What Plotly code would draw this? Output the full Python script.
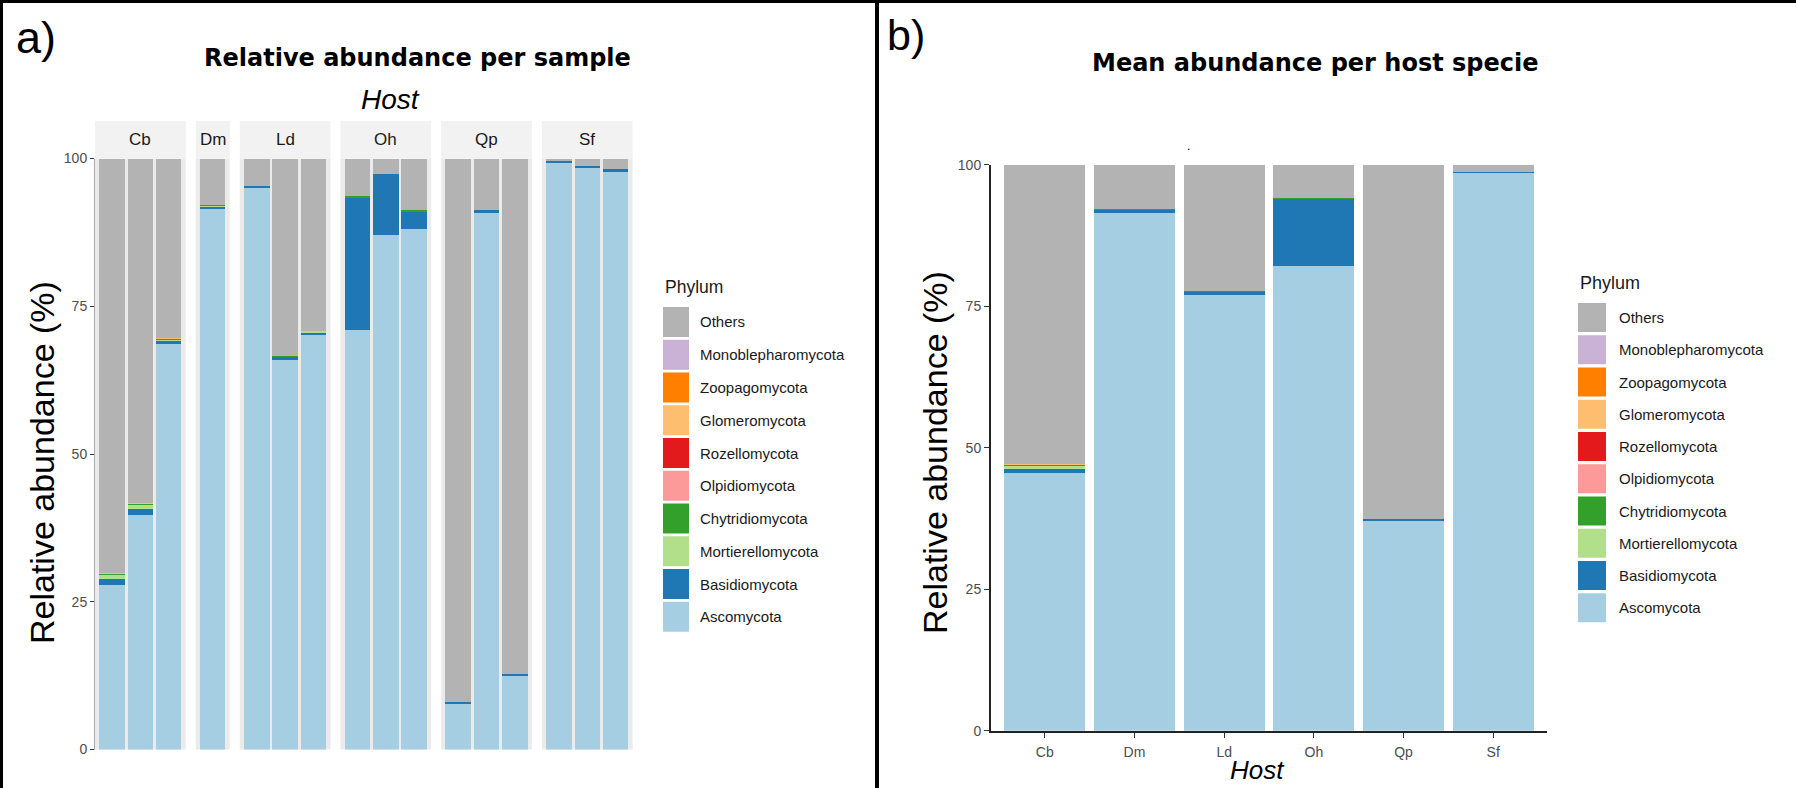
import plotly.graph_objects as go

W, H = 1796, 788

# ---------------- data ----------------
phyla = ["Ascomycota", "Basidiomycota", "Mortierellomycota", "Chytridiomycota",
         "Olpidiomycota", "Rozellomycota", "Glomeromycota", "Zoopagomycota",
         "Monoblepharomycota", "Others"]
phylum_colors = ["#A6CEE3", "#1F78B4", "#B2DF8A", "#33A02C", "#FB9A99",
                 "#E31A1C", "#FDBF6F", "#FF7F00", "#CAB2D6", "#B3B3B3"]

hosts = ["Cb", "Dm", "Ld", "Oh", "Qp", "Sf"]
samples = ["Cb1", "Cb2", "Cb3", "Dm1", "Ld1", "Ld2", "Ld3", "Oh1", "Oh2", "Oh3",
           "Qp1", "Qp2", "Qp3", "Sf1", "Sf2", "Sf3"]
sample_host = ["Cb", "Cb", "Cb", "Dm", "Ld", "Ld", "Ld", "Oh", "Oh", "Oh",
               "Qp", "Qp", "Qp", "Sf", "Sf", "Sf"]

# relative abundance (%) per sample
sample_ascomycota = [27.8, 39.7, 68.6, 91.5, 95.0, 65.9, 70.1, 71.0, 87.0, 88.0,
                     7.8, 90.85, 12.6, 99.4, 98.6, 97.8]
sample_basidiomycota = [1.1, 1.0, 0.45, 0.5, 0.35, 0.6, 0.6, 22.55, 10.4, 3.1,
                        0.2, 0.45, 0.2, 0.15, 0.15, 0.4]
sample_mortierellomycota = [0.8, 0.8, 0.45, 0.1, 0.0, 0.1, 0.05, 0.0, 0.0, 0.1,
                            0.0, 0.0, 0.0, 0.0, 0.0, 0.0]
sample_chytridiomycota = [0.15, 0.2, 0.05, 0.05, 0.0, 0.05, 0.0, 0.05, 0.0, 0.1,
                          0.0, 0.0, 0.0, 0.0, 0.0, 0.0]
sample_olpidiomycota = [0.0] * 16
sample_rozellomycota = [0.0] * 16
sample_glomeromycota = [0.05, 0.05, 0.1, 0.0, 0.0, 0.0, 0.0, 0.0, 0.0, 0.0,
                        0.0, 0.0, 0.0, 0.0, 0.0, 0.0]
sample_zoopagomycota = [0.0] * 16
sample_monoblepharomycota = [0.0] * 16
sample_others = [70.1, 58.25, 30.35, 7.85, 4.65, 33.35, 29.25, 6.4, 2.6, 8.7,
                 92.0, 8.7, 87.2, 0.45, 1.25, 1.8]

# mean abundance (%) per host
host_ascomycota = [45.5, 91.5, 77.0, 82.1, 37.2, 98.6]
host_basidiomycota = [0.8, 0.6, 0.6, 12.0, 0.25, 0.2]
host_mortierellomycota = [0.6, 0.1, 0.05, 0.05, 0.0, 0.0]
host_chytridiomycota = [0.1, 0.05, 0.02, 0.05, 0.0, 0.0]
host_olpidiomycota = [0.0] * 6
host_rozellomycota = [0.0] * 6
host_glomeromycota = [0.1, 0.0, 0.0, 0.0, 0.0, 0.0]
host_zoopagomycota = [0.0] * 6
host_monoblepharomycota = [0.0] * 6
host_others = [52.9, 7.75, 22.33, 5.8, 62.55, 1.2]

y_ticks = [0, 25, 50, 75, 100]

sample_table = dict(zip(phyla, [
    sample_ascomycota, sample_basidiomycota, sample_mortierellomycota,
    sample_chytridiomycota, sample_olpidiomycota, sample_rozellomycota,
    sample_glomeromycota, sample_zoopagomycota, sample_monoblepharomycota,
    sample_others]))
host_table = dict(zip(phyla, [
    host_ascomycota, host_basidiomycota, host_mortierellomycota,
    host_chytridiomycota, host_olpidiomycota, host_rozellomycota,
    host_glomeromycota, host_zoopagomycota, host_monoblepharomycota,
    host_others]))


def px(x):
    return x / W


def py(y):
    return 1 - y / H


SANS = "Liberation Sans, Arial, Helvetica, sans-serif"
TITLE = "DejaVu Sans, Verdana, sans-serif"

fig = go.Figure()
layout = dict(width=W, height=H,
              margin=dict(l=0, r=0, t=0, b=0, pad=0, autoexpand=False),
              paper_bgcolor="white", plot_bgcolor="rgba(0,0,0,0)",
              barmode="stack", bargap=0.1, showlegend=False,
              font=dict(family=SANS, color="#1A1A1A"))
shapes = []
annotations = []

# ---------------- panel a: facets ----------------
unit = 28.35
gap = 10.0
left = 95.0
ya_bottom, ya_top = 749.5, 158.5
strip_top = 121.0
panel_h = ya_bottom - ya_top

x0 = left
for i, h in enumerate(hosts):
    idx = [k for k, s in enumerate(sample_host) if s == h]
    n = len(idx)
    wpx = (n + 0.2) * unit
    ax = "x" if i == 0 else f"x{i + 1}"
    axkey = "xaxis" if i == 0 else f"xaxis{i + 1}"
    layout[axkey] = dict(domain=[px(x0), px(x0 + wpx)], anchor="y",
                         type="category", range=[-0.6, n - 0.4],
                         showticklabels=False, ticks="", showgrid=False,
                         zeroline=False, showline=False, fixedrange=True,
                         automargin=False)
    for p, c in zip(phyla, phylum_colors):
        fig.add_trace(go.Bar(
            x=[samples[k] for k in idx],
            y=[sample_table[p][k] for k in idx],
            name=p, marker=dict(color=c, line=dict(width=0)),
            xaxis=ax, yaxis="y", hovertemplate=p + ": %{y}%<extra></extra>"))
    # panel background
    shapes.append(dict(type="rect", xref=f"{ax} domain", yref="y domain",
                       x0=0, x1=1, y0=0, y1=1, fillcolor="#EBEBEB",
                       line=dict(width=0), layer="below"))
    # strip
    shapes.append(dict(type="rect", xref=f"{ax} domain", yref="y domain",
                       x0=0, x1=1, y0=1, y1=1 + (ya_top - strip_top) / panel_h,
                       fillcolor="#F2F2F2", line=dict(width=0), layer="below"))
    annotations.append(dict(text=h, xref=f"{ax} domain", yref="y domain",
                            x=0.5, y=1 + (ya_top - 139.5) / panel_h,
                            xanchor="center", yanchor="middle", showarrow=False,
                            font=dict(size=17, color="#1A1A1A", family=SANS)))
    x0 += wpx + gap

layout["yaxis"] = dict(domain=[py(ya_bottom), py(ya_top)], anchor="x",
                       range=[0, 100], tickvals=y_ticks, ticks="outside",
                       ticklen=4, tickwidth=1, tickcolor="#333333",
                       tickfont=dict(size=14, color="#4D4D4D", family=SANS),
                       showline=True, linecolor="#A8A8A8", linewidth=1,
                       showgrid=False, zeroline=False, fixedrange=True,
                       automargin=False)

# ---------------- panel b ----------------
yb_bottom, yb_top = 730.8, 164.9
layout["xaxis7"] = dict(domain=[px(991), px(1547)], anchor="y2",
                        type="category", range=[-0.6, len(hosts) - 0.4],
                        ticks="outside", ticklen=5, tickwidth=1.2,
                        tickcolor="#333333", ticklabelstandoff=2,
                        tickfont=dict(size=14, color="#4D4D4D", family=SANS),
                        showline=True, linecolor="#222222", linewidth=2,
                        showgrid=False, zeroline=False, fixedrange=True,
                        automargin=False)
layout["yaxis2"] = dict(domain=[py(yb_bottom), py(yb_top)], anchor="x7",
                        range=[0, 100], tickvals=y_ticks, ticks="outside",
                        ticklen=5, tickwidth=1.2, tickcolor="#333333",
                        tickfont=dict(size=14, color="#4D4D4D", family=SANS),
                        showline=True, linecolor="#222222", linewidth=2,
                        showgrid=False, zeroline=False, fixedrange=True,
                        automargin=False)
for p, c in zip(phyla, phylum_colors):
    fig.add_trace(go.Bar(x=hosts, y=host_table[p], name=p,
                         marker=dict(color=c, line=dict(width=0)),
                         xaxis="x7", yaxis="y2",
                         hovertemplate=p + ": %{y}%<extra></extra>"))

# ---------------- texts ----------------
annotations += [
    dict(text="a)", x=px(14), y=py(37), xanchor="left", yanchor="middle",
         font=dict(size=45, family=SANS, color="#000000")),
    dict(text="b)", x=px(885), y=py(35), xanchor="left", yanchor="middle",
         font=dict(size=43, family=SANS, color="#000000")),
    dict(text="Relative abundance per sample", x=px(417), y=py(58),
         xanchor="center", yanchor="middle",
         font=dict(size=24, family=TITLE, color="#000000", weight="bold")),
    dict(text="Mean abundance per host specie", x=px(1315), y=py(63),
         xanchor="center", yanchor="middle",
         font=dict(size=24, family=TITLE, color="#000000", weight="bold")),
    dict(text="Host", x=px(390), y=py(99), xanchor="center", yanchor="middle",
         font=dict(size=28, family=SANS, color="#000000", style="italic")),
    dict(text="Host", x=px(1257), y=py(770), xanchor="center", yanchor="middle",
         font=dict(size=26, family=SANS, color="#000000", style="italic")),
    dict(text="Relative abundance (%)", x=px(42), y=py(463), textangle=-90,
         xanchor="center", yanchor="middle",
         font=dict(size=34, family=SANS, color="#000000")),
    dict(text="Relative abundance (%)", x=px(935), y=py(452), textangle=-90,
         xanchor="center", yanchor="middle",
         font=dict(size=34, family=SANS, color="#000000")),
    dict(text=".", x=px(1188), y=py(146), xanchor="center", yanchor="middle",
         font=dict(size=12, family=SANS, color="#000000")),
]
for a in annotations:
    a.setdefault("xref", "paper")
    a.setdefault("yref", "paper")
    a["showarrow"] = False

# ---------------- legends (drawn) ----------------
legend_order = list(reversed(range(len(phyla))))
legend_specs = [
    dict(key_x0=663, key_x1=689, title_y=287, first=322.0, step=32.75,
         half=15.0, label_x=698, size=15, tsize=17.5),
    dict(key_x0=1578, key_x1=1606, title_y=283, first=317.5, step=32.25,
         half=14.5, label_x=1617, size=15, tsize=18),
]
for spec in legend_specs:
    annotations.append(dict(text="Phylum", xref="paper", yref="paper",
                            x=px(spec["key_x0"]), y=py(spec["title_y"]),
                            xanchor="left", yanchor="middle", showarrow=False,
                            font=dict(size=spec["tsize"], family=SANS,
                                      color="#1A1A1A")))
    for r, k in enumerate(legend_order):
        cy = spec["first"] + r * spec["step"]
        shapes.append(dict(type="rect", xref="paper", yref="paper",
                           x0=px(spec["key_x0"]), x1=px(spec["key_x1"]),
                           y0=py(cy + spec["half"]), y1=py(cy - spec["half"]),
                           fillcolor=phylum_colors[k], line=dict(width=0)))
        annotations.append(dict(text=phyla[k], xref="paper", yref="paper",
                                x=px(spec["label_x"]), y=py(cy),
                                xanchor="left", yanchor="middle",
                                showarrow=False,
                                font=dict(size=spec["size"], family=SANS,
                                          color="#1A1A1A")))

# ---------------- frame ----------------
frame = dict(type="line", xref="paper", yref="paper",
             line=dict(color="#000000", width=3))
shapes += [
    dict(frame, x0=0, x1=1, y0=py(1.5), y1=py(1.5)),
    dict(frame, x0=px(1.5), x1=px(1.5), y0=0, y1=1),
    dict(frame, x0=px(877), x1=px(877), y0=0, y1=1,
         line=dict(color="#000000", width=4)),
]

layout["shapes"] = shapes
layout["annotations"] = annotations
fig.update_layout(**layout)
fig.write_html(
    "out.html",
    config={"displayModeBar": False},
    post_script=(
        "document.documentElement.style.margin='0';"
        "document.documentElement.style.overflow='hidden';"
        "document.body.style.margin='0';"
        "document.body.style.padding='0';"
        "document.body.style.overflow='hidden';"
        "var gd=document.getElementById('{plot_id}');"
        "gd.style.position='fixed';gd.style.top='0px';gd.style.left='0px';"
    ),
)
